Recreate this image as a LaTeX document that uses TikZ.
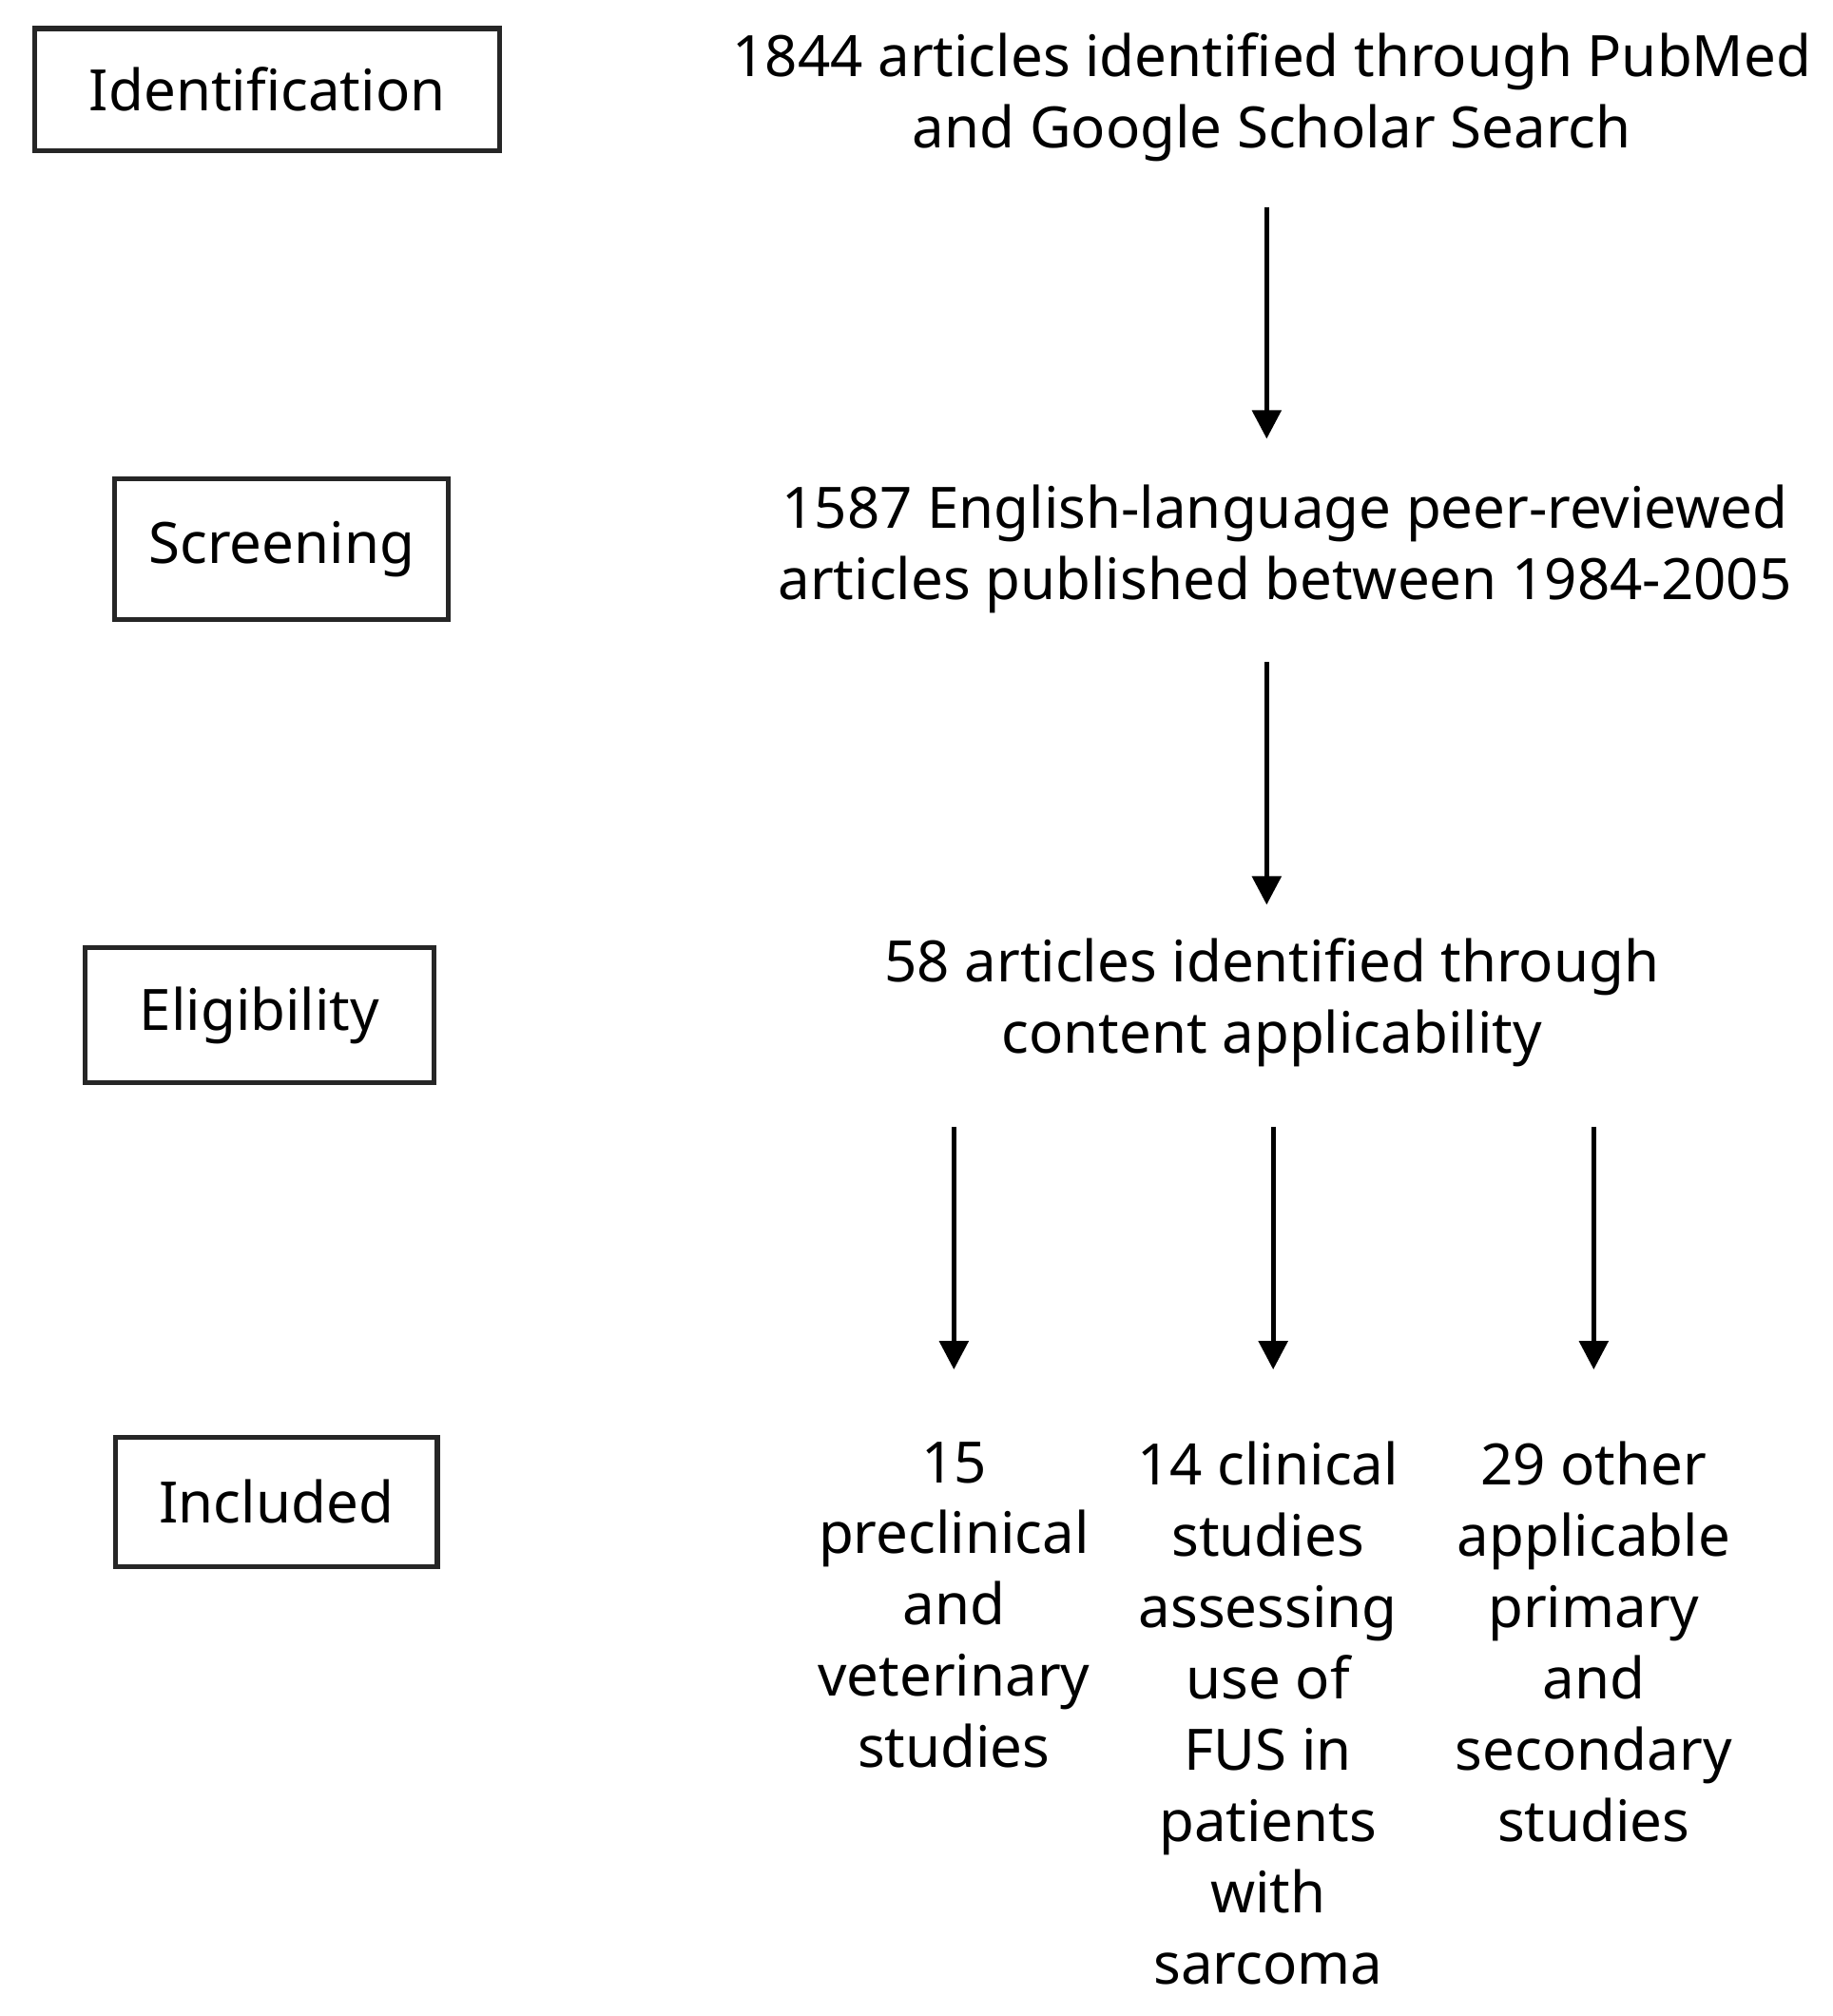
\documentclass[tikz,border=0pt]{standalone}
\usepackage{fontspec}
\setmainfont{Noto Sans}
\usetikzlibrary{arrows.meta}
\begin{document}
\begin{tikzpicture}[x=0.01cm,y=-0.01cm,
  box/.style={draw=black!85,line width=1.1pt,inner sep=0},
  txt/.style={align=center,font=\fontsize{12.5}{15.6}\selectfont,inner sep=0},
  arr/.style={line width=1.1pt,-{Triangle[width=0.22cm,length=0.22cm]}}]
\useasboundingbox (0,0) rectangle (1412,1553);
\node[box,minimum width=3.58cm,minimum height=0.94cm,txt] (b1) at (206,69) {Identification};
\node[box,minimum width=2.57cm,minimum height=1.08cm,txt] (b2) at (217,423) {Screening};
\node[box,minimum width=2.69cm,minimum height=1.04cm,txt] (b3) at (200,782) {Eligibility};
\node[box,minimum width=2.48cm,minimum height=1.00cm,txt] (b4) at (213,1157) {Included};
\node[txt] (t1) at (980,75) {1844 articles identified through PubMed\\and Google Scholar Search};
\node[txt] (t2) at (990,423) {1587 English-language peer-reviewed\\articles published between 1984-2005};
\node[txt] (t3) at (980,772) {58 articles identified through\\content applicability};
\node[txt,anchor=north] (c1) at (735,1110) {15\\preclinical\\and\\veterinary\\studies};
\node[txt,anchor=north] (c2) at (977,1110) {14 clinical\\studies\\assessing\\use of\\FUS in\\patients\\with\\sarcoma};
\node[txt,anchor=north] (c3) at (1228,1110) {29 other\\applicable\\primary\\and\\secondary\\studies};
\coordinate (a1s) at (976,160); \coordinate (a1e) at (976,338);
\coordinate (a2s) at (976,510); \coordinate (a2e) at (976,697);
\coordinate (a3s) at (735,868); \coordinate (a3e) at (735,1055);
\coordinate (a4s) at (981,868); \coordinate (a4e) at (981,1055);
\coordinate (a5s) at (1228,868); \coordinate (a5e) at (1228,1055);
\draw[arr] (a1s) -- (a1e);
\draw[arr] (a2s) -- (a2e);
\draw[arr] (a3s) -- (a3e);
\draw[arr] (a4s) -- (a4e);
\draw[arr] (a5s) -- (a5e);
\end{tikzpicture}
\end{document}
